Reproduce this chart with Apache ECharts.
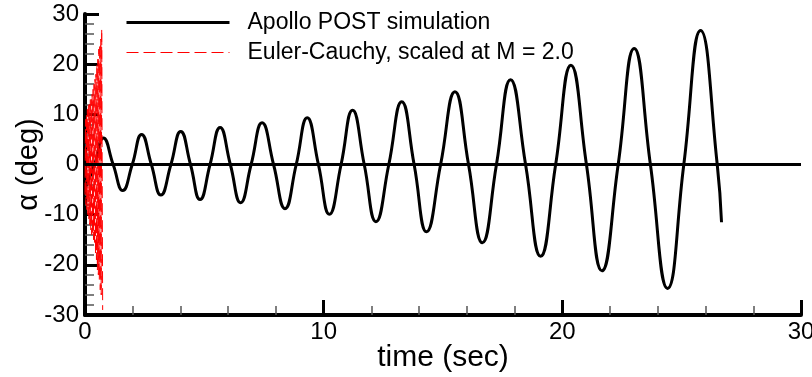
<!DOCTYPE html>
<html>
<head>
<meta charset="utf-8">
<script src="https://cdn.jsdelivr.net/npm/echarts@6/dist/echarts.min.js"></script>
<style>
  html, body { margin: 0; padding: 0; background: #fff; }
  #chart { width: 812px; height: 377px; }
</style>
</head>
<body>
<div id="chart"></div>
<script>
// Apollo POST simulation: peaks, troughs and zero crossings
const apolloTime = [0, 0.40, 0.77, 1.18, 1.58, 1.98, 2.37, 2.78, 3.18, 3.60, 4.01, 4.42, 4.82, 5.24,
  5.66, 6.09, 6.52, 6.96, 7.42, 7.90, 8.38, 8.85, 9.31, 9.78, 10.24, 10.73, 11.21, 11.70, 12.19,
  12.73, 13.27, 13.79, 14.31, 14.90, 15.50, 16.07, 16.65, 17.24, 17.83, 18.46, 19.09, 19.72, 20.36,
  21.01, 21.66, 22.34, 23.01, 23.69, 24.41, 25.09, 25.79, 26.49, 26.67];
const apolloAlpha = [-4.8, 0, 5.3, 0, -5.2, 0, 6.0, 0, -6.1, 0, 6.6, 0, -7.0, 0,
  7.4, 0, -7.6, 0, 8.3, 0, -8.8, 0, 9.3, 0, -9.9, 0, 10.8, 0, -11.4,
  0, 12.5, 0, -13.4, 0, 14.5, 0, -15.6, 0, 16.9, 0, -18.3, 0, 19.8,
  0, -21.2, 0, 23.1, 0, -24.7, 0, 26.7, 0, -11.5];

// Euler-Cauchy (scaled at M = 2.0): fast oscillation near t = 0
const eulerTime = [0, 0.02, 0.04, 0.06, 0.08, 0.10, 0.12, 0.14, 0.16, 0.18, 0.20, 0.22, 0.24,
  0.26, 0.28, 0.30, 0.32, 0.34, 0.36, 0.38, 0.40, 0.42, 0.44, 0.46, 0.48, 0.50, 0.52, 0.54,
  0.56, 0.58, 0.60, 0.62, 0.64, 0.66, 0.68, 0.70, 0.74];
const eulerAlpha = [-6, 9, -8, 10, -9, 11, -10, 12, -11, 12, -12, 13, -13,
  13, -14, 14, -14, 15, -15, 16, -16, 17, -18, 18, -19, 20, -21, 21,
  -22, 23, -23, 24, -25, 25, -26, 27, -29];

const xTicks = { min: 0, max: 30, interval: 10 };
const yTicks = { min: -30, max: 30, interval: 10 };

const font = 'Liberation Sans, Arial, Helvetica, sans-serif';

let chart = echarts.init(document.getElementById('chart'));

let option = {
    animation: false,
    textStyle: { fontFamily: font },
    grid: { left: 85, right: 11, top: 14, bottom: 62, outerBoundsMode: 'none', containLabel: false },
    legend: {
        orient: 'vertical',
        left: 120,
        top: 5,
        itemWidth: 103,
        itemHeight: 12,
        itemGap: 5,
        itemStyle: { opacity: 0 },
        textStyle: { fontSize: 23, color: '#000', lineHeight: 25, padding: [0, 0, 0, 13] },
        data: [
            { name: 'Apollo POST simulation', lineStyle: { width: 3, color: '#000' } },
            { name: 'Euler-Cauchy, scaled at M = 2.0', lineStyle: { width: 1, color: '#ff0000', type: [12, 5] } },
        ],
    },
    xAxis: {
        type: 'value',
        min: xTicks.min,
        max: xTicks.max,
        interval: xTicks.interval,
        name: 'time (sec)',
        nameLocation: 'middle',
        nameGap: 28,
        nameMoveOverlap: false,
        nameTextStyle: { fontSize: 30, color: '#000' },
        axisLine: { onZero: false, lineStyle: { color: '#000', width: 4 } },
        axisTick: { inside: true, length: 15, lineStyle: { color: '#000', width: 3 } },
        minorTick: { show: true, splitNumber: 5, length: 9, lineStyle: { color: '#555', width: 1.5 } },
        axisLabel: { fontSize: 24, color: '#000', margin: 5 },
        splitLine: { show: false },
    },
    yAxis: {
        type: 'value',
        min: yTicks.min,
        max: yTicks.max,
        interval: yTicks.interval,
        name: 'α (deg)',
        nameLocation: 'middle',
        nameGap: 42,
        nameMoveOverlap: false,
        nameRotate: 90,
        nameTextStyle: { fontSize: 29, color: '#000' },
        axisLine: { onZero: false, lineStyle: { color: '#000', width: 4 } },
        axisTick: { inside: true, length: 14, lineStyle: { color: '#000', width: 3 } },
        minorTick: { show: true, splitNumber: 5, length: 9, lineStyle: { color: '#555', width: 1.5 } },
        axisLabel: { fontSize: 24, color: '#000', margin: 6 },
        splitLine: { show: false },
    },
    series: [
        {
            name: 'Apollo POST simulation',
            type: 'line',
            symbol: 'none',
            smooth: true,
            color: '#000',
            lineStyle: { color: '#000', width: 3 },
            data: apolloTime.map((t, i) => [t, apolloAlpha[i]]),
            markLine: {
                silent: true,
                symbol: 'none',
                label: { show: false },
                lineStyle: { color: '#000', width: 3, type: 'solid' },
                data: [{ yAxis: 0 }],
            },
            z: 3,
        },
        {
            name: 'Euler-Cauchy, scaled at M = 2.0',
            type: 'line',
            symbol: 'none',
            color: '#ff0000',
            lineStyle: { color: '#ff0000', width: 1, type: [12, 5] },
            data: eulerTime.map((t, i) => [t, eulerAlpha[i]]),
            z: 4,
        },
    ],
};

chart.setOption(option);
</script>
</body>
</html>
